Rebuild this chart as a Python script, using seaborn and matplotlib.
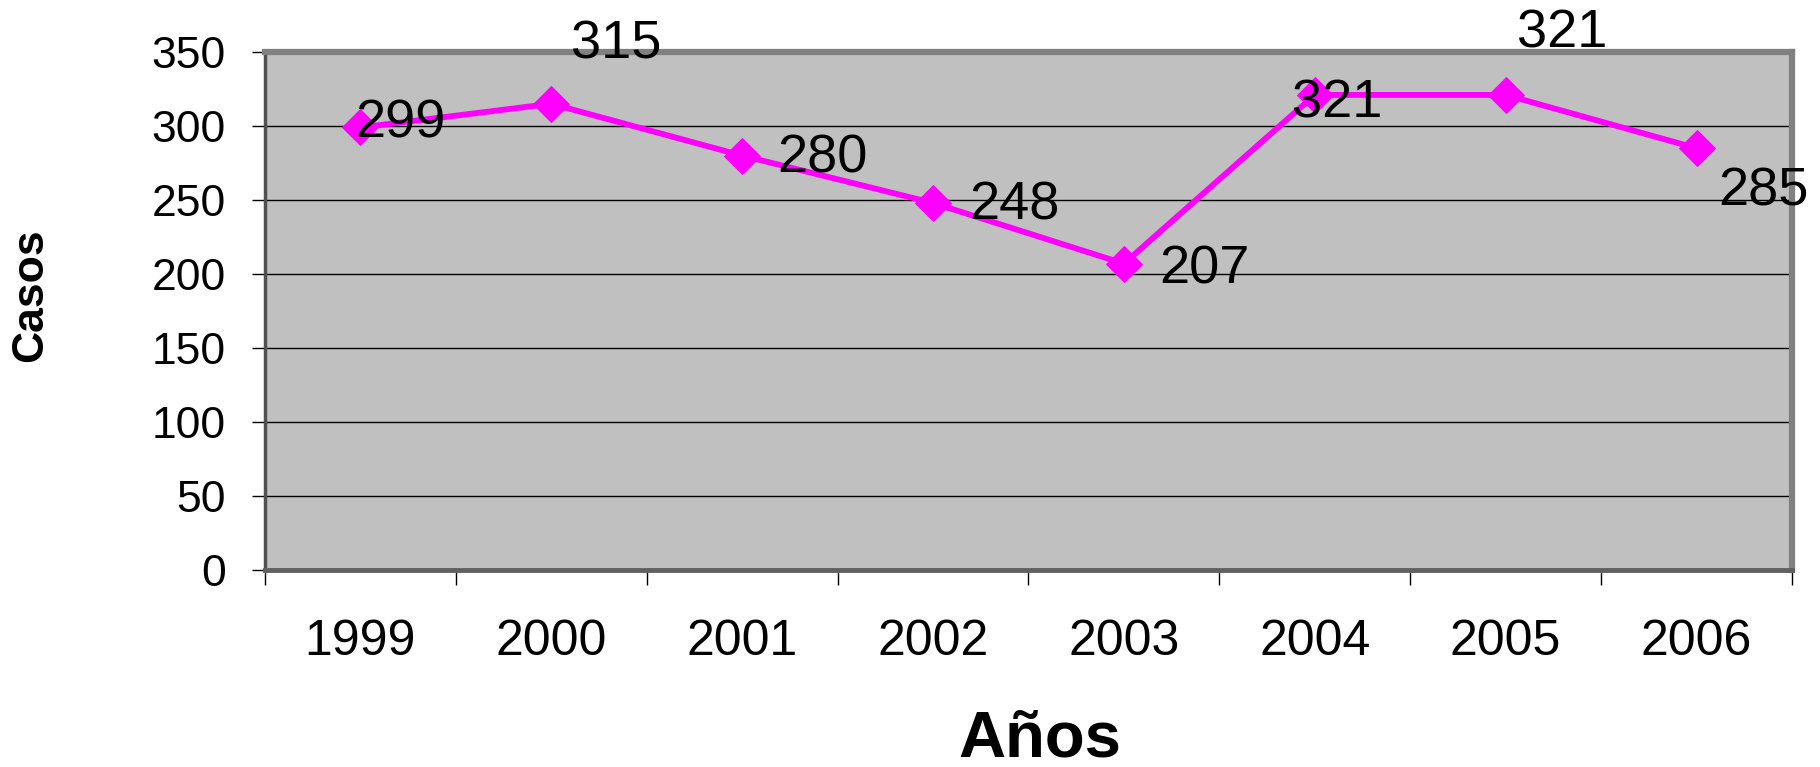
import numpy as np
import pandas as pd
import matplotlib
matplotlib.use('Agg')
import matplotlib.pyplot as plt
import seaborn as sns

# ==== Datos ====
years = ['1999', '2000', '2001', '2002', '2003', '2004', '2005', '2006']
casos = [299, 315, 280, 248, 207, 321, 321, 285]
y_ticks = [0, 50, 100, 150, 200, 250, 300, 350]

# desplazamiento de cada etiqueta respecto a su punto (pixeles)
label_offsets = [(-5, -10), (20, 45), (35, -17), (36, -17),
                 (35, -20), (-23, -23), (11, 47), (22, -57)]

sns.set_style('white')
plt.rcParams['font.family'] = ['Liberation Sans', 'DejaVu Sans']
plt.rcParams['text.color'] = 'black'
plt.rcParams['xtick.color'] = 'black'
plt.rcParams['ytick.color'] = 'black'
plt.rcParams['axes.labelcolor'] = 'black'

df = pd.DataFrame({'pos': np.arange(len(years)), 'casos': casos})

fig = plt.figure(figsize=(18.2, 7.67), dpi=100)
ax = fig.add_axes([0.1456, 0.2568, 0.839, 0.6754])
ax.set_facecolor('#C0C0C0')

sns.lineplot(data=df, x='pos', y='casos', ax=ax, color='#FF00FF',
             linewidth=4.2, marker='D', markersize=18,
             markeredgecolor='#FF00FF', zorder=3)

# etiquetas de datos
for i, v in enumerate(casos):
    dx, dy = label_offsets[i]
    ax.annotate(str(v), (df.pos[i], v), xytext=(dx, dy),
                textcoords='offset pixels', ha='left', va='baseline',
                fontsize=39, color='black', annotation_clip=False, zorder=4)

# ejes
ax.set_xlim(-0.5, len(years) - 0.5)
ax.set_ylim(0, 350)
ax.set_yticks(y_ticks)
ax.set_yticklabels([str(t) for t in y_ticks])
ax.yaxis.grid(True, color='black', linewidth=1)
ax.xaxis.grid(False)
ax.set_axisbelow(True)

ax.set_xticks(np.arange(len(years) + 1) - 0.5)
ax.set_xticklabels([])
ax.set_xticks(df.pos, minor=True)
ax.set_xticklabels(years, minor=True, fontsize=36)
ax.tick_params(axis='x', which='major', bottom=True, length=11, width=1, color='black')
ax.tick_params(axis='x', which='minor', bottom=True, length=0, pad=35, labelcolor='black')
ax.tick_params(axis='y', left=True, length=9.4, width=1, color='black', pad=19,
               labelsize=32, labelcolor='black')
ax.set_xlabel('')
ax.set_ylabel('')

for side in ['top', 'right']:
    ax.spines[side].set_color('#808080')
    ax.spines[side].set_linewidth(4.5)
ax.spines['left'].set_color('#505050')
ax.spines['left'].set_linewidth(2.5)
ax.spines['bottom'].set_color('#606060')
ax.spines['bottom'].set_linewidth(3.5)

fig.text(31 / 1820, 1 - 295 / 767, 'Casos', rotation=90, ha='center', va='center',
         fontsize=32, fontweight='bold', color='black')
fig.text(1040 / 1820, 0.014, 'Años', ha='center', va='baseline',
         fontsize=47, fontweight='bold', color='black')

fig.savefig('out.png', dpi=100)
plt.close()
